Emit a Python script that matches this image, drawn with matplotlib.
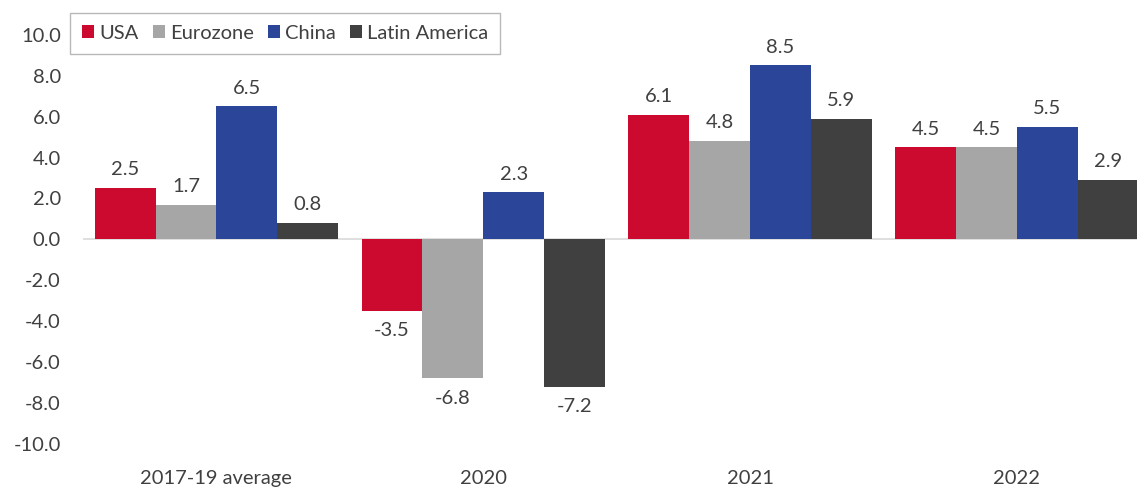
import numpy as np
import matplotlib.pyplot as plt
import matplotlib as mpl

categories = ["2017-19 average", "2020", "2021", "2022"]
series = ["USA", "Eurozone", "China", "Latin America"]
usa = [2.5, -3.5, 6.1, 4.5]
eurozone = [1.7, -6.8, 4.8, 4.5]
china = [6.5, 2.3, 8.5, 5.5]
latam = [0.8, -7.2, 5.9, 2.9]

colors = ["#CC0A2F", "#A6A6A6", "#2B4699", "#404040"]
text_color = "#404040"

mpl.rcParams["font.family"] = ["Lato", "DejaVu Sans"]

fig = plt.figure(figsize=(11.37, 4.9), dpi=100)
ax = fig.add_axes([0.073, 0.094, 0.927, 0.835])

x = np.arange(len(categories))
width = 0.228
values = [usa, eurozone, china, latam]
for i, (name, vals) in enumerate(zip(series, values)):
    pos = x + (i - 1.5) * width
    bars = ax.bar(pos, vals, width=width, color=colors[i], label=name)
    for b, v in zip(bars, vals):
        if v >= 0:
            ax.annotate(f"{v:.1f}", (b.get_x() + b.get_width() / 2, v),
                        xytext=(0, 7), textcoords="offset points",
                        ha="center", va="bottom", fontsize=14.5, color=text_color)
        else:
            ax.annotate(f"{v:.1f}", (b.get_x() + b.get_width() / 2, v),
                        xytext=(0, -8), textcoords="offset points",
                        ha="center", va="top", fontsize=14.5, color=text_color)

ax.axhline(0, color="#D9D9D9", lw=1.2, zorder=0)
ax.set_ylim(-10, 10)
ax.set_xlim(-0.5, 3.45)
ax.set_yticks(np.arange(-10, 10.1, 2))
ax.set_yticklabels([f"{t:.1f}" for t in np.arange(-10, 10.1, 2)])
ax.set_xticks(x)
ax.set_xticklabels(categories)
ax.tick_params(axis="y", length=0, labelsize=14.5, labelcolor=text_color, pad=16)
ax.tick_params(axis="x", length=0, labelsize=14.5, labelcolor=text_color, pad=19)
for s in ax.spines.values():
    s.set_visible(False)

leg = ax.legend(loc="upper left", bbox_to_anchor=(-0.0123, 1.054), ncol=4,
                fontsize=14.5, frameon=True, handlelength=0.6, handleheight=0.6,
                handletextpad=0.25, columnspacing=0.7, borderpad=0.6,
                borderaxespad=0)
leg.get_frame().set_edgecolor("#A6A6A6")
leg.get_frame().set_boxstyle("Square", pad=0)
leg.get_frame().set_linewidth(1)
for t in leg.get_texts():
    t.set_color(text_color)

fig.savefig("out.png", dpi=100)
